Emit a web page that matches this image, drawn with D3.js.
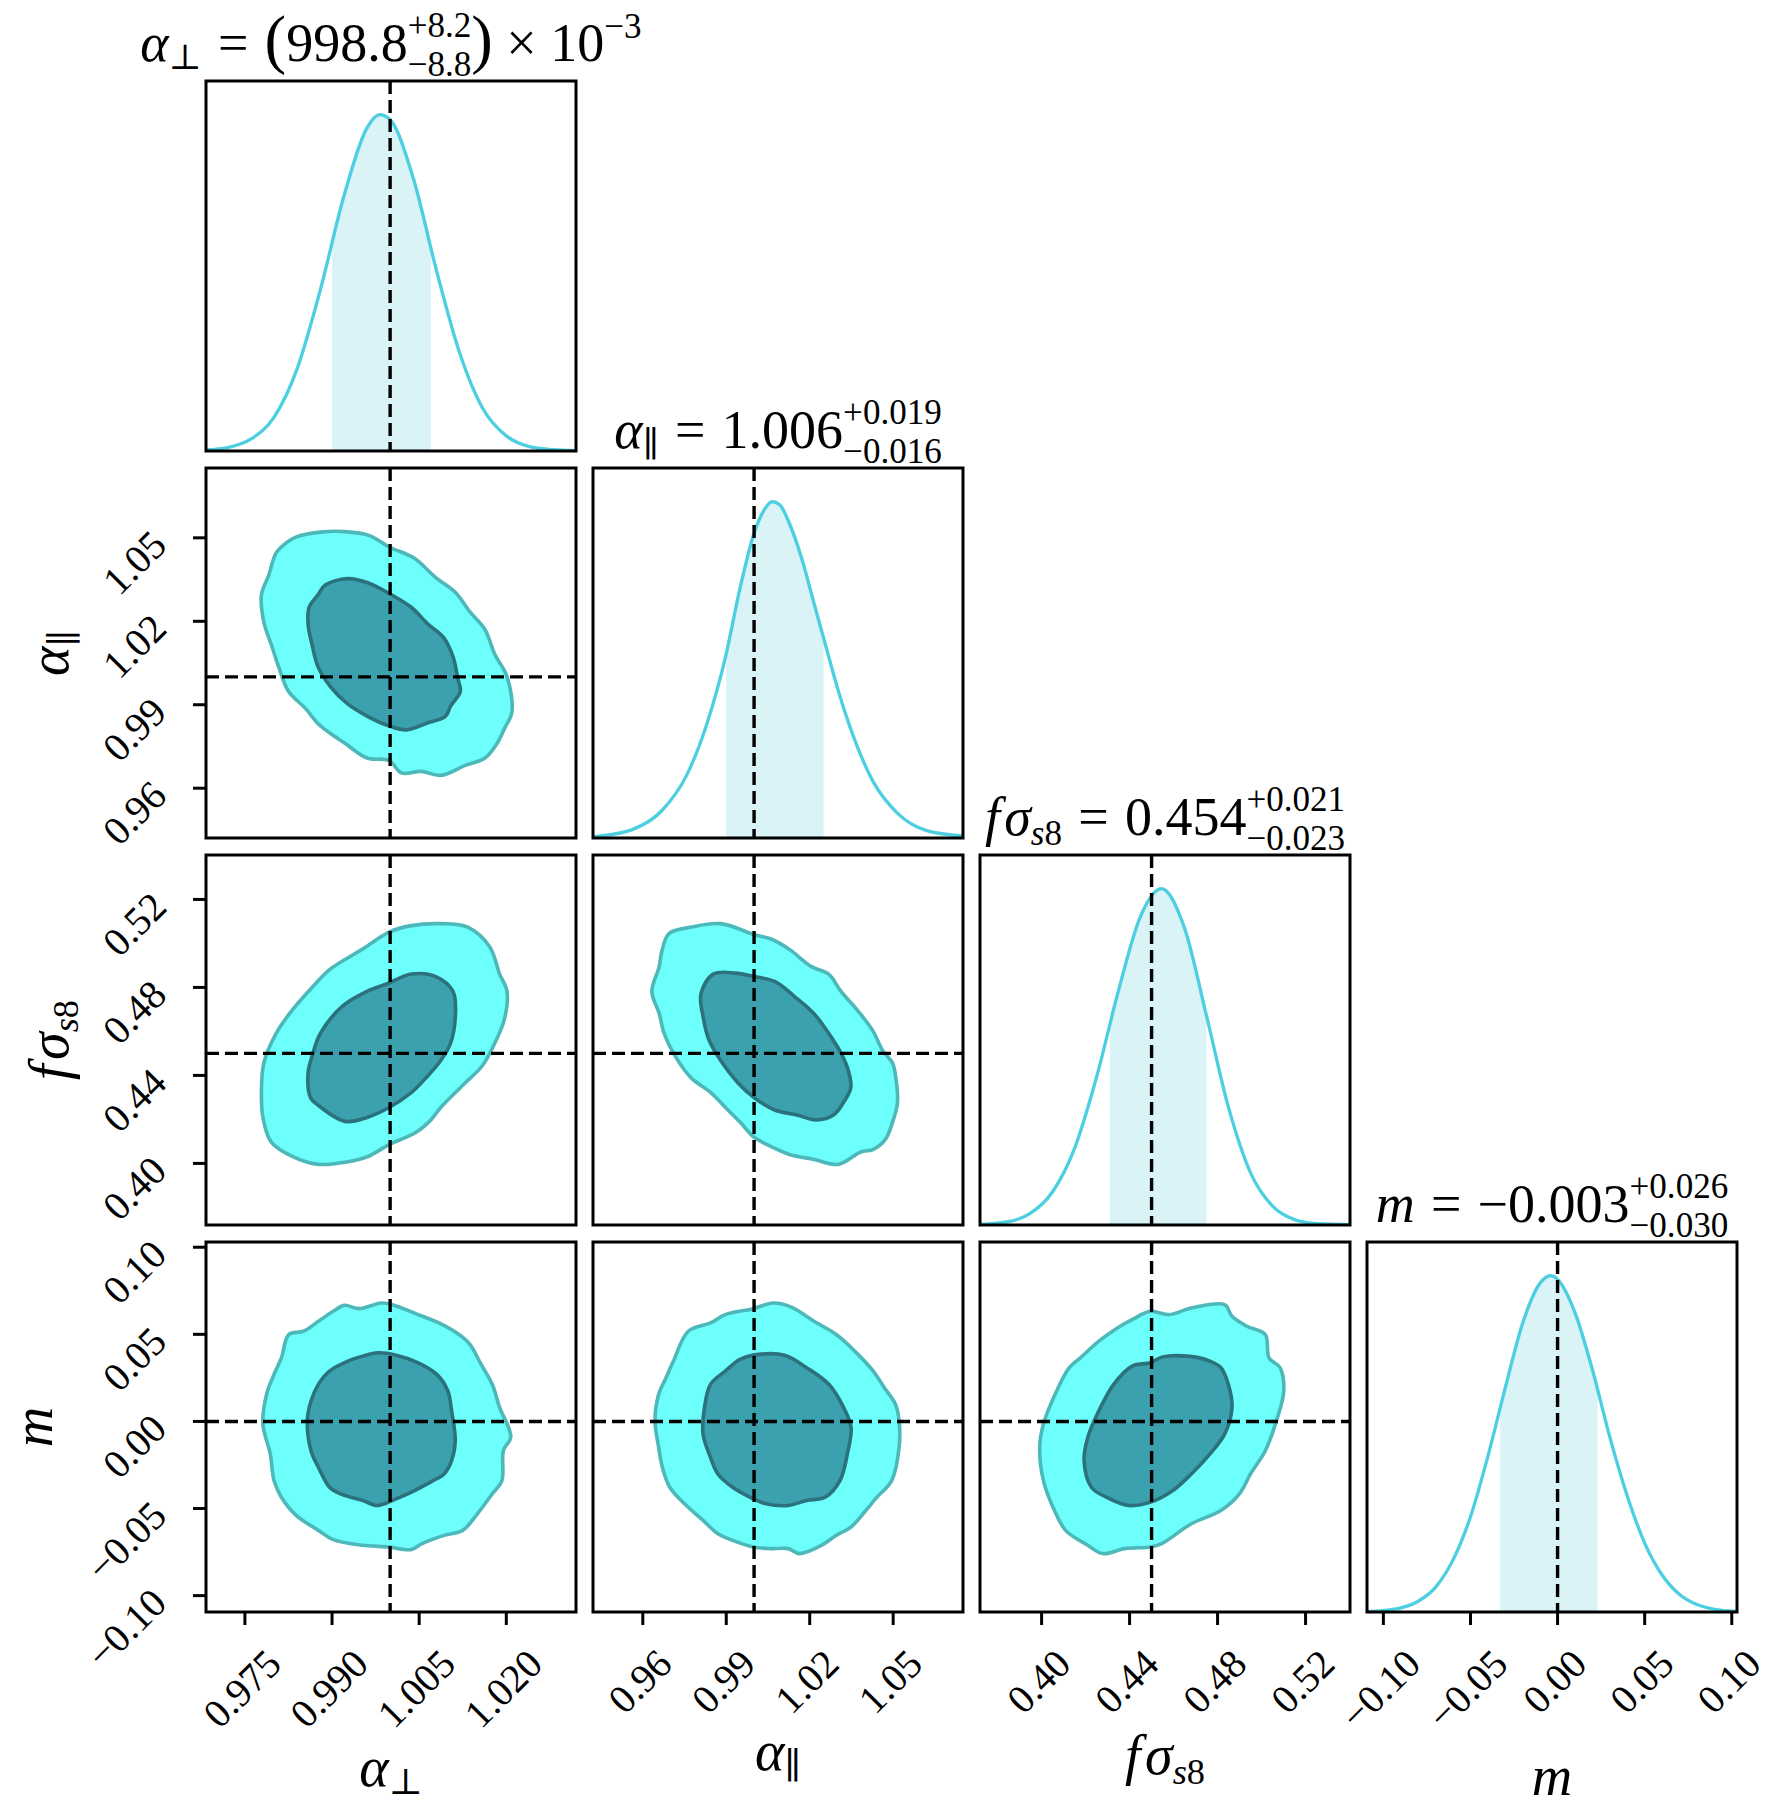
<!DOCTYPE html>
<html><head><meta charset="utf-8">
<script src="https://cdn.jsdelivr.net/npm/d3@7"></script>
<style>body{margin:0;background:#fff}svg{display:block}</style>
</head><body>
<svg id="chart" width="1785" height="1818"></svg>
<script>
// ---------------- DATA ----------------
const paramNames = ["alpha_perp", "alpha_par", "fsigma_s8", "m"];
const truths = [1.0, 1.0, 0.450, 0.0];
const ranges = [[0.9683, 1.0320], [0.9421, 1.0751], [0.3720, 0.5402], [-0.1094, 0.1030]];
const tickValues = [[0.975, 0.990, 1.005, 1.020], [0.96, 0.99, 1.02, 1.05], [0.40, 0.44, 0.48, 0.52], [-0.10, -0.05, 0.00, 0.05, 0.10]];
const tickLabels = [["0.975", "0.990", "1.005", "1.020"], ["0.96", "0.99", "1.02", "1.05"], ["0.40", "0.44", "0.48", "0.52"], ["−0.10", "−0.05", "0.00", "0.05", "0.10"]];
const quantileBands = [[0.9900, 1.0070], [0.990, 1.025], [0.431, 0.475], [-0.033, 0.023]];

// 1D marginals (x value, relative density, peak = 1)
const margAperpX = [0.9683, 0.9720, 0.9760, 0.9800, 0.9840, 0.9880, 0.9920, 0.9960, 0.9982, 1.0000, 1.0040, 1.0080, 1.0120, 1.0160, 1.0200, 1.0240, 1.0280, 1.0320];
const margAperpY = [0.003, 0.010, 0.035, 0.100, 0.245, 0.480, 0.755, 0.960, 1.000, 0.985, 0.810, 0.535, 0.290, 0.125, 0.045, 0.013, 0.004, 0.001];
const margAparX = [0.9421, 0.9430, 0.9562, 0.9668, 0.9756, 0.9827, 0.9897, 0.9950, 1.0000, 1.0039, 1.0065, 1.0092, 1.0127, 1.0171, 1.0215, 1.0259, 1.0304, 1.0357, 1.0427, 1.0515, 1.0621, 1.0751];
const margAparY = [0.003, 0.004, 0.025, 0.081, 0.184, 0.331, 0.537, 0.744, 0.906, 0.979, 1.000, 0.991, 0.935, 0.832, 0.699, 0.567, 0.434, 0.302, 0.169, 0.074, 0.022, 0.006];
const margFs8X = [0.372, 0.385, 0.395, 0.405, 0.415, 0.425, 0.435, 0.445, 0.4545, 0.465, 0.475, 0.485, 0.495, 0.505, 0.515, 0.525, 0.5402];
const margFs8Y = [0.002, 0.010, 0.035, 0.099, 0.228, 0.440, 0.698, 0.918, 1.000, 0.882, 0.621, 0.349, 0.155, 0.056, 0.016, 0.004, 0.001];
const margMX = [-0.1094, -0.100, -0.090, -0.080, -0.070, -0.060, -0.050, -0.040, -0.030, -0.020, -0.010, -0.004, 0.000, 0.010, 0.020, 0.030, 0.040, 0.050, 0.060, 0.070, 0.080, 0.090, 0.103];
const margMY = [0.001, 0.004, 0.012, 0.032, 0.074, 0.155, 0.283, 0.463, 0.667, 0.859, 0.978, 1.000, 0.989, 0.890, 0.720, 0.520, 0.345, 0.205, 0.110, 0.052, 0.022, 0.008, 0.002];

// 2D contours [col value, row value]
const cAparAperpOuter = [[0.98376,1.05027],[0.98799,1.05204],[0.99222,1.05222],[0.99645,1.05080],[0.99983,1.04671],[1.00406,1.04280],[1.00786,1.03570],[1.01125,1.03037],[1.01378,1.02326],[1.01632,1.01704],[1.01801,1.00816],[1.02012,1.00016],[1.02097,0.98737],[1.01970,0.98150],[1.01843,0.97617],[1.01632,0.97084],[1.01294,0.96818],[1.00871,0.96462],[1.00533,0.96604],[1.00194,0.96551],[0.99983,0.96996],[0.99602,0.97084],[0.99222,0.97617],[0.98968,0.97973],[0.98757,0.98328],[0.98545,0.98861],[0.98249,0.99483],[0.98080,1.00371],[0.97953,1.01171],[0.97826,1.01971],[0.97784,1.02948],[0.97911,1.03658],[0.98038,1.04458],[0.98207,1.04813]];
const cAparAperpInner = [[0.98883,1.03303],[0.99264,1.03534],[0.99602,1.03392],[0.99983,1.03001],[1.00363,1.02504],[1.00659,1.01882],[1.00913,1.01437],[1.01082,1.00727],[1.01167,0.99927],[1.01209,0.99483],[1.01040,0.98950],[1.00955,0.98594],[1.00617,0.98328],[1.00279,0.98097],[0.99983,0.98239],[0.99602,0.98594],[0.99264,0.99039],[0.98968,0.99661],[0.98757,1.00371],[0.98655,1.01171],[0.98588,1.01882],[0.98605,1.02504],[0.98757,1.02948]];
const cFs8AperpOuter = [[0.99983,0.50517],[1.00363,0.50809],[1.00871,0.50899],[1.01336,0.50742],[1.01716,0.49843],[1.01885,0.48607],[1.02012,0.47821],[1.01970,0.46585],[1.01801,0.45462],[1.01590,0.44451],[1.01251,0.43552],[1.00871,0.42541],[1.00702,0.41979],[1.00448,0.41417],[0.99983,0.40856],[0.99602,0.40294],[0.99264,0.40069],[0.98757,0.39957],[0.98334,0.40294],[0.97953,0.40968],[0.97810,0.42091],[0.97784,0.43215],[0.97826,0.44563],[0.98038,0.45911],[0.98334,0.47034],[0.98672,0.48045],[0.98968,0.48832],[0.99518,0.49730]];
const cFs8AperpInner = [[0.99983,0.48203],[1.00363,0.48607],[1.00786,0.48495],[1.01082,0.47821],[1.01125,0.46810],[1.01040,0.45462],[1.00871,0.44675],[1.00617,0.43889],[1.00363,0.43215],[0.99983,0.42541],[0.99602,0.42091],[0.99222,0.41911],[0.98757,0.42653],[0.98630,0.42990],[0.98588,0.44114],[0.98672,0.45012],[0.98799,0.45911],[0.99180,0.47147],[0.99602,0.47821]];
const cFs8AparOuter = [[0.96944,0.50450],[0.97738,0.50742],[0.98798,0.50899],[0.99998,0.50405],[1.00651,0.50180],[1.01269,0.49730],[1.02064,0.48944],[1.02682,0.48607],[1.03124,0.47821],[1.03741,0.46922],[1.04271,0.46023],[1.04624,0.45125],[1.04977,0.44563],[1.05118,0.43664],[1.05154,0.42766],[1.04977,0.41867],[1.04712,0.41081],[1.04271,0.40631],[1.03829,0.40519],[1.03035,0.39957],[1.02152,0.40182],[1.01269,0.40406],[1.00651,0.40743],[0.99998,0.41193],[0.99504,0.41867],[0.98974,0.42541],[0.98444,0.43215],[0.97738,0.43889],[0.97209,0.44788],[0.96767,0.45911],[0.96590,0.46810],[0.96326,0.47821],[0.96590,0.48944],[0.96679,0.49618]];
const cFs8AparInner = [[0.98533,0.48607],[0.99328,0.48652],[0.99998,0.48495],[1.00740,0.48270],[1.01446,0.47596],[1.02153,0.46810],[1.02682,0.45911],[1.03124,0.45012],[1.03388,0.44226],[1.03477,0.43440],[1.03212,0.42766],[1.02859,0.42204],[1.02241,0.41979],[1.01535,0.42204],[1.00740,0.42429],[0.99998,0.42990],[0.99416,0.43664],[0.98798,0.44675],[0.98356,0.45687],[0.98180,0.46585],[0.98091,0.47709]];
const cMAperpOuter = [[0.99211,0.06663],[0.99466,0.06473],[0.99848,0.06797],[1.00039,0.06701],[1.00484,0.06130],[1.00803,0.05711],[1.01185,0.04987],[1.01376,0.04415],[1.01567,0.03272],[1.01758,0.02129],[1.01886,0.00795],[1.02077,-0.00881],[1.01949,-0.01681],[1.01924,-0.03396],[1.01758,-0.04158],[1.01503,-0.05301],[1.01249,-0.06254],[1.00930,-0.06540],[1.00548,-0.07016],[1.00357,-0.07359],[0.99975,-0.07207],[0.99529,-0.07111],[0.99020,-0.06787],[0.98765,-0.06254],[0.98383,-0.05396],[0.98128,-0.04349],[0.98001,-0.03396],[0.97937,-0.01872],[0.97810,-0.00153],[0.97873,0.01557],[0.98001,0.02700],[0.98128,0.03653],[0.98255,0.04987],[0.98510,0.05177],[0.98765,0.05749],[0.99020,0.06320]];
const cMAperpInner = [[0.99784,0.03939],[1.00102,0.03805],[1.00484,0.03367],[1.00803,0.02700],[1.00994,0.01748],[1.01058,0.00605],[1.01121,-0.01110],[1.01058,-0.02253],[1.00930,-0.03015],[1.00739,-0.03396],[1.00421,-0.03967],[1.00102,-0.04444],[0.99784,-0.04825],[0.99529,-0.04539],[0.99147,-0.04158],[0.98956,-0.03777],[0.98765,-0.02634],[0.98638,-0.01681],[0.98574,0.00033],[0.98638,0.01176],[0.98765,0.02129],[0.98956,0.02891],[0.99274,0.03463],[0.99529,0.03748]];
const cMAparOuter = [[0.99975,0.06473],[1.00693,0.06797],[1.01357,0.06549],[1.02155,0.05749],[1.02953,0.04987],[1.03618,0.04034],[1.04283,0.02891],[1.04682,0.01938],[1.05081,0.00986],[1.05213,0.00033],[1.05213,-0.01491],[1.04947,-0.03396],[1.04415,-0.04349],[1.04016,-0.05111],[1.03484,-0.06063],[1.02953,-0.06540],[1.02421,-0.07111],[1.01623,-0.07587],[1.01224,-0.07302],[1.00559,-0.07302],[0.99975,-0.07207],[0.99230,-0.06825],[0.98698,-0.06444],[0.98166,-0.05682],[0.97501,-0.04730],[0.96970,-0.03777],[0.96704,-0.02634],[0.96571,-0.01491],[0.96438,0.00033],[0.96571,0.01557],[0.96836,0.02510],[0.97102,0.03463],[0.97634,0.05177],[0.98432,0.05654],[0.98964,0.06130]];
const cMAparInner = [[0.99975,0.03805],[1.01092,0.03805],[1.01890,0.03082],[1.02688,0.02129],[1.03220,0.00795],[1.03486,-0.00348],[1.03353,-0.01872],[1.03087,-0.03396],[1.02555,-0.04349],[1.01890,-0.04539],[1.01225,-0.04825],[1.00427,-0.04730],[0.99975,-0.04444],[0.99230,-0.03777],[0.98698,-0.03015],[0.98432,-0.02062],[0.98166,-0.00728],[0.98219,0.00795],[0.98432,0.02129],[0.98964,0.02891],[0.99496,0.03558]];
const cMFs8Outer = [[0.44957,0.06320],[0.45798,0.06130],[0.46807,0.06511],[0.48320,0.06701],[0.48656,0.06034],[0.49329,0.05463],[0.50170,0.04987],[0.50338,0.03653],[0.50842,0.03082],[0.51010,0.01748],[0.50674,0.00033],[0.50170,-0.01681],[0.49497,-0.03015],[0.48993,-0.04158],[0.48152,-0.05111],[0.46807,-0.05873],[0.45462,-0.07016],[0.44957,-0.07206],[0.43780,-0.07302],[0.42771,-0.07587],[0.42099,-0.07111],[0.41090,-0.06254],[0.40586,-0.05111],[0.40082,-0.03396],[0.39913,-0.01491],[0.40082,-0.00157],[0.40754,0.01938],[0.41259,0.03082],[0.41763,0.03653],[0.42604,0.04606],[0.43445,0.05368],[0.44117,0.05844]];
const cMFs8Inner = [[0.44957,0.03367],[0.45462,0.03691],[0.46639,0.03748],[0.47648,0.03463],[0.48152,0.03082],[0.48488,0.02129],[0.48656,0.00795],[0.48320,-0.00729],[0.47648,-0.01872],[0.46807,-0.03015],[0.45966,-0.03967],[0.44957,-0.04634],[0.43948,-0.04825],[0.42939,-0.04349],[0.42266,-0.03777],[0.41930,-0.02253],[0.42099,-0.00919],[0.42604,0.00605],[0.43276,0.02129],[0.44117,0.03177]];

const marginals = [[margAperpX, margAperpY], [margAparX, margAparY], [margFs8X, margFs8Y], [margMX, margMY]];
const contours = {
  "1-0": [cAparAperpOuter, cAparAperpInner],
  "2-0": [cFs8AperpOuter, cFs8AperpInner],
  "2-1": [cFs8AparOuter, cFs8AparInner],
  "3-0": [cMAperpOuter, cMAperpInner],
  "3-1": [cMAparOuter, cMAparInner],
  "3-2": [cMFs8Outer, cMFs8Inner]
};

// ---------------- LAYOUT / STYLE ----------------
const X0 = 206, Y0 = 81, S = 370, STEP = 387;
const FONT = '"Liberation Serif","DejaVu Serif",serif';
const TICK_FS = 40, TITLE_FS = 54, LABEL_FS = 56;
const SCRIPT = 0.65, SUP_DY = 0.45, SUB_DY = 0.28;
const OUTER_FILL = "#6dfffb", OUTER_EDGE = "#4cb8b9", INNER_FILL = "#3ca1ae", INNER_EDGE = "#2b727c";
const CURVE = "#4ccfe0", BAND = "#d9f3f7", BAND_EDGE = "#bfe8ef";
const DASH = "13,6", DASH_W = 3.4, FRAME_W = 3;

const svg = d3.select("#chart");
const defs = svg.append("defs");
const xScale = j => d3.scaleLinear().domain(ranges[j]).range([X0 + j * STEP, X0 + j * STEP + S]);
const yScale = i => d3.scaleLinear().domain(ranges[i]).range([Y0 + i * STEP + S, Y0 + i * STEP]);

// lays out a small math expression as ONE text element made of positioned tspans
function drawMath(parent, parts, fs) {
  const g = parent.append("g");
  const meas = g.append("text").attr("font-family", FONT).attr("visibility", "hidden");
  const measure = (txt, size, it) => {
    meas.attr("font-size", size).attr("font-style", it ? "italic" : "normal").text(txt);
    return meas.node().getComputedTextLength();
  };
  const items = [];
  let x = 0;
  const norm = v => Array.isArray(v) ? v : [[v, false]];
  const push = (segs, x0, y, size) => {
    let xx = x0;
    segs.forEach(s => { items.push({t: s[0], it: s[1], x: xx, y, size}); xx += measure(s[0], size, s[1]); });
    return xx - x0;
  };
  parts.forEach(p => {
    x += (p.kl || 0) * fs;
    if (p.t !== undefined) {
      const size = fs * (p.s || 1);
      const w = push([[p.t, !!p.it]], x, (p.dy || 0) * fs, size);
      x += w + (p.k || 0) * fs;
    } else {
      let w = 0;
      if (p.sup) w = Math.max(w, push(norm(p.sup), x, -(p.supDy || SUP_DY) * fs, SCRIPT * fs));
      if (p.sub) w = Math.max(w, push(norm(p.sub), x, (p.subDy || SUB_DY) * fs, SCRIPT * fs));
      x += w + (p.k || 0) * fs;
    }
  });
  meas.remove();
  const t = g.append("text").attr("font-family", FONT).attr("fill", "#000");
  items.forEach(d => t.append("tspan").attr("x", d.x - x / 2).attr("y", d.y)
    .attr("font-size", d.size).attr("font-style", d.it ? "italic" : "normal").text(d.t));
  return g;
}

// clip paths
for (let i = 0; i < 4; i++) for (let j = 0; j <= i; j++) {
  defs.append("clipPath").attr("id", `clip-${i}-${j}`).append("rect")
    .attr("x", X0 + j * STEP).attr("y", Y0 + i * STEP).attr("width", S).attr("height", S);
}

// ---------------- PANELS ----------------
for (let i = 0; i < 4; i++) {
  for (let j = 0; j <= i; j++) {
    const xs = xScale(j);
    const px = X0 + j * STEP, py = Y0 + i * STEP;
    const g = svg.append("g");
    const cg = g.append("g").attr("clip-path", `url(#clip-${i}-${j})`);
    if (i === j) {
      const ys = d3.scaleLinear().domain([0, 1.1]).range([py + S, py]);
      const [mx, my] = marginals[i];
      const pts = mx.map((v, k) => [v, my[k]]);
      const area = d3.area().x(d => xs(d[0])).y0(py + S).y1(d => ys(d[1])).curve(d3.curveMonotoneX);
      const line = d3.line().x(d => xs(d[0])).y(d => ys(d[1])).curve(d3.curveMonotoneX);
      const bid = `band-${i}`;
      defs.append("clipPath").attr("id", bid).append("rect")
        .attr("x", xs(quantileBands[i][0])).attr("y", py)
        .attr("width", xs(quantileBands[i][1]) - xs(quantileBands[i][0])).attr("height", S);
      cg.append("g").attr("clip-path", `url(#${bid})`).append("path").datum(pts)
        .attr("d", area).attr("fill", BAND).attr("stroke", BAND_EDGE).attr("stroke-width", 3);
      cg.append("path").datum(pts).attr("d", line).attr("fill", "none").attr("stroke", CURVE).attr("stroke-width", 3.3);
    } else {
      const ys = yScale(i);
      const [outer, inner] = contours[`${i}-${j}`];
      const ln = d3.line().x(d => xs(d[0])).y(d => ys(d[1])).curve(d3.curveCatmullRomClosed.alpha(0.5));
      cg.append("path").attr("d", ln(outer)).attr("fill", OUTER_FILL);
      cg.append("path").attr("d", ln(inner)).attr("fill", INNER_FILL);
      cg.append("path").attr("d", ln(outer)).attr("fill", "none").attr("stroke", OUTER_EDGE).attr("stroke-width", 3.6);
      cg.append("path").attr("d", ln(inner)).attr("fill", "none").attr("stroke", INNER_EDGE).attr("stroke-width", 3.6);
      cg.append("line").attr("x1", px).attr("x2", px + S).attr("y1", ys(truths[i])).attr("y2", ys(truths[i]))
        .attr("stroke", "#000").attr("stroke-width", DASH_W).attr("stroke-dasharray", DASH);
    }
    cg.append("line").attr("x1", xs(truths[j])).attr("x2", xs(truths[j])).attr("y1", py).attr("y2", py + S)
      .attr("stroke", "#000").attr("stroke-width", DASH_W).attr("stroke-dasharray", DASH);
    g.append("rect").attr("x", px).attr("y", py).attr("width", S).attr("height", S)
      .attr("fill", "none").attr("stroke", "#000").attr("stroke-width", FRAME_W);

    if (i === 3) {
      tickValues[j].forEach((v, k) => {
        const tx = xs(v);
        g.append("line").attr("x1", tx).attr("x2", tx).attr("y1", py + S).attr("y2", py + S + 13)
          .attr("stroke", "#000").attr("stroke-width", FRAME_W);
        const t = g.append("text").attr("font-family", FONT).attr("font-size", TICK_FS)
          .attr("text-anchor", "middle").attr("dy", "0.34em").text(tickLabels[j][k]);
        const w = t.node().getComputedTextLength();
        const h = 0.68 * TICK_FS;
        const cx = tx - 3, cy = 1647 + (w + h) / (2 * Math.SQRT2);
        t.attr("transform", `translate(${cx},${cy}) rotate(-45)`);
      });
    }
    if (j === 0 && i > 0) {
      const ys = yScale(i);
      tickValues[i].forEach((v, k) => {
        const ty = ys(v);
        g.append("line").attr("x1", px - 13).attr("x2", px).attr("y1", ty).attr("y2", ty)
          .attr("stroke", "#000").attr("stroke-width", FRAME_W);
        g.append("text").attr("font-family", FONT).attr("font-size", TICK_FS)
          .attr("text-anchor", "end").attr("dy", "0.34em")
          .attr("transform", `translate(159,${ty}) rotate(-45)`).text(tickLabels[i][k]);
      });
    }
  }
}

// ---------------- TITLES ----------------
const titleParts = [
  [{t: "α", it: true}, {sub: "⊥", subDy: 0.15}, {t: "=", kl: 0.3, k: 0.3}, {t: "(", s: 1.2}, {t: "998.8"}, {sup: "+8.2", sub: "−8.8"}, {t: ")", s: 1.2}, {t: "×", kl: 0.25, k: 0.25}, {t: "10"}, {sup: "−3", supDy: 0.42}],
  [{t: "α", it: true}, {sub: "∥", subDy: 0.15}, {t: "=", kl: 0.3, k: 0.3}, {t: "1.006"}, {sup: "+0.019", sub: "−0.016"}],
  [{t: "f", it: true, k: 0.08}, {t: "σ", it: true}, {sub: [["s", true], ["8", false]], subDy: 0.18}, {t: "=", kl: 0.3, k: 0.3}, {t: "0.454"}, {sup: "+0.021", sub: "−0.023"}],
  [{t: "m", it: true}, {t: "=", kl: 0.3, k: 0.3}, {t: "−0.003"}, {sup: "+0.026", sub: "−0.030"}]
];
titleParts.forEach((parts, i) => {
  const g = drawMath(svg, parts, TITLE_FS);
  g.attr("transform", `translate(${X0 + i * STEP + S / 2},${Y0 + i * STEP - 20})`);
});

// ---------------- AXIS LABELS ----------------
const labelParts = [
  [{t: "α", it: true}, {sub: "⊥", subDy: 0.15}],
  [{t: "α", it: true}, {sub: "∥", subDy: 0.15}],
  [{t: "f", it: true, k: 0.08}, {t: "σ", it: true}, {sub: [["s", true], ["8", false]], subDy: 0.18}],
  [{t: "m", it: true}]
];
const xLabelBaselines = [1786, 1770, 1774, 1795];
labelParts.forEach((parts, j) => {
  const g = drawMath(svg, parts, LABEL_FS);
  g.attr("transform", `translate(${X0 + j * STEP + S / 2},${xLabelBaselines[j]})`);
});
const yLabelBaselines = [null, 68, 68, 52];
for (let i = 1; i < 4; i++) {
  const g = drawMath(svg, labelParts[i], LABEL_FS);
  g.attr("transform", `translate(${yLabelBaselines[i]},${Y0 + i * STEP + S / 2}) rotate(-90)`);
}
</script>
</body></html>
